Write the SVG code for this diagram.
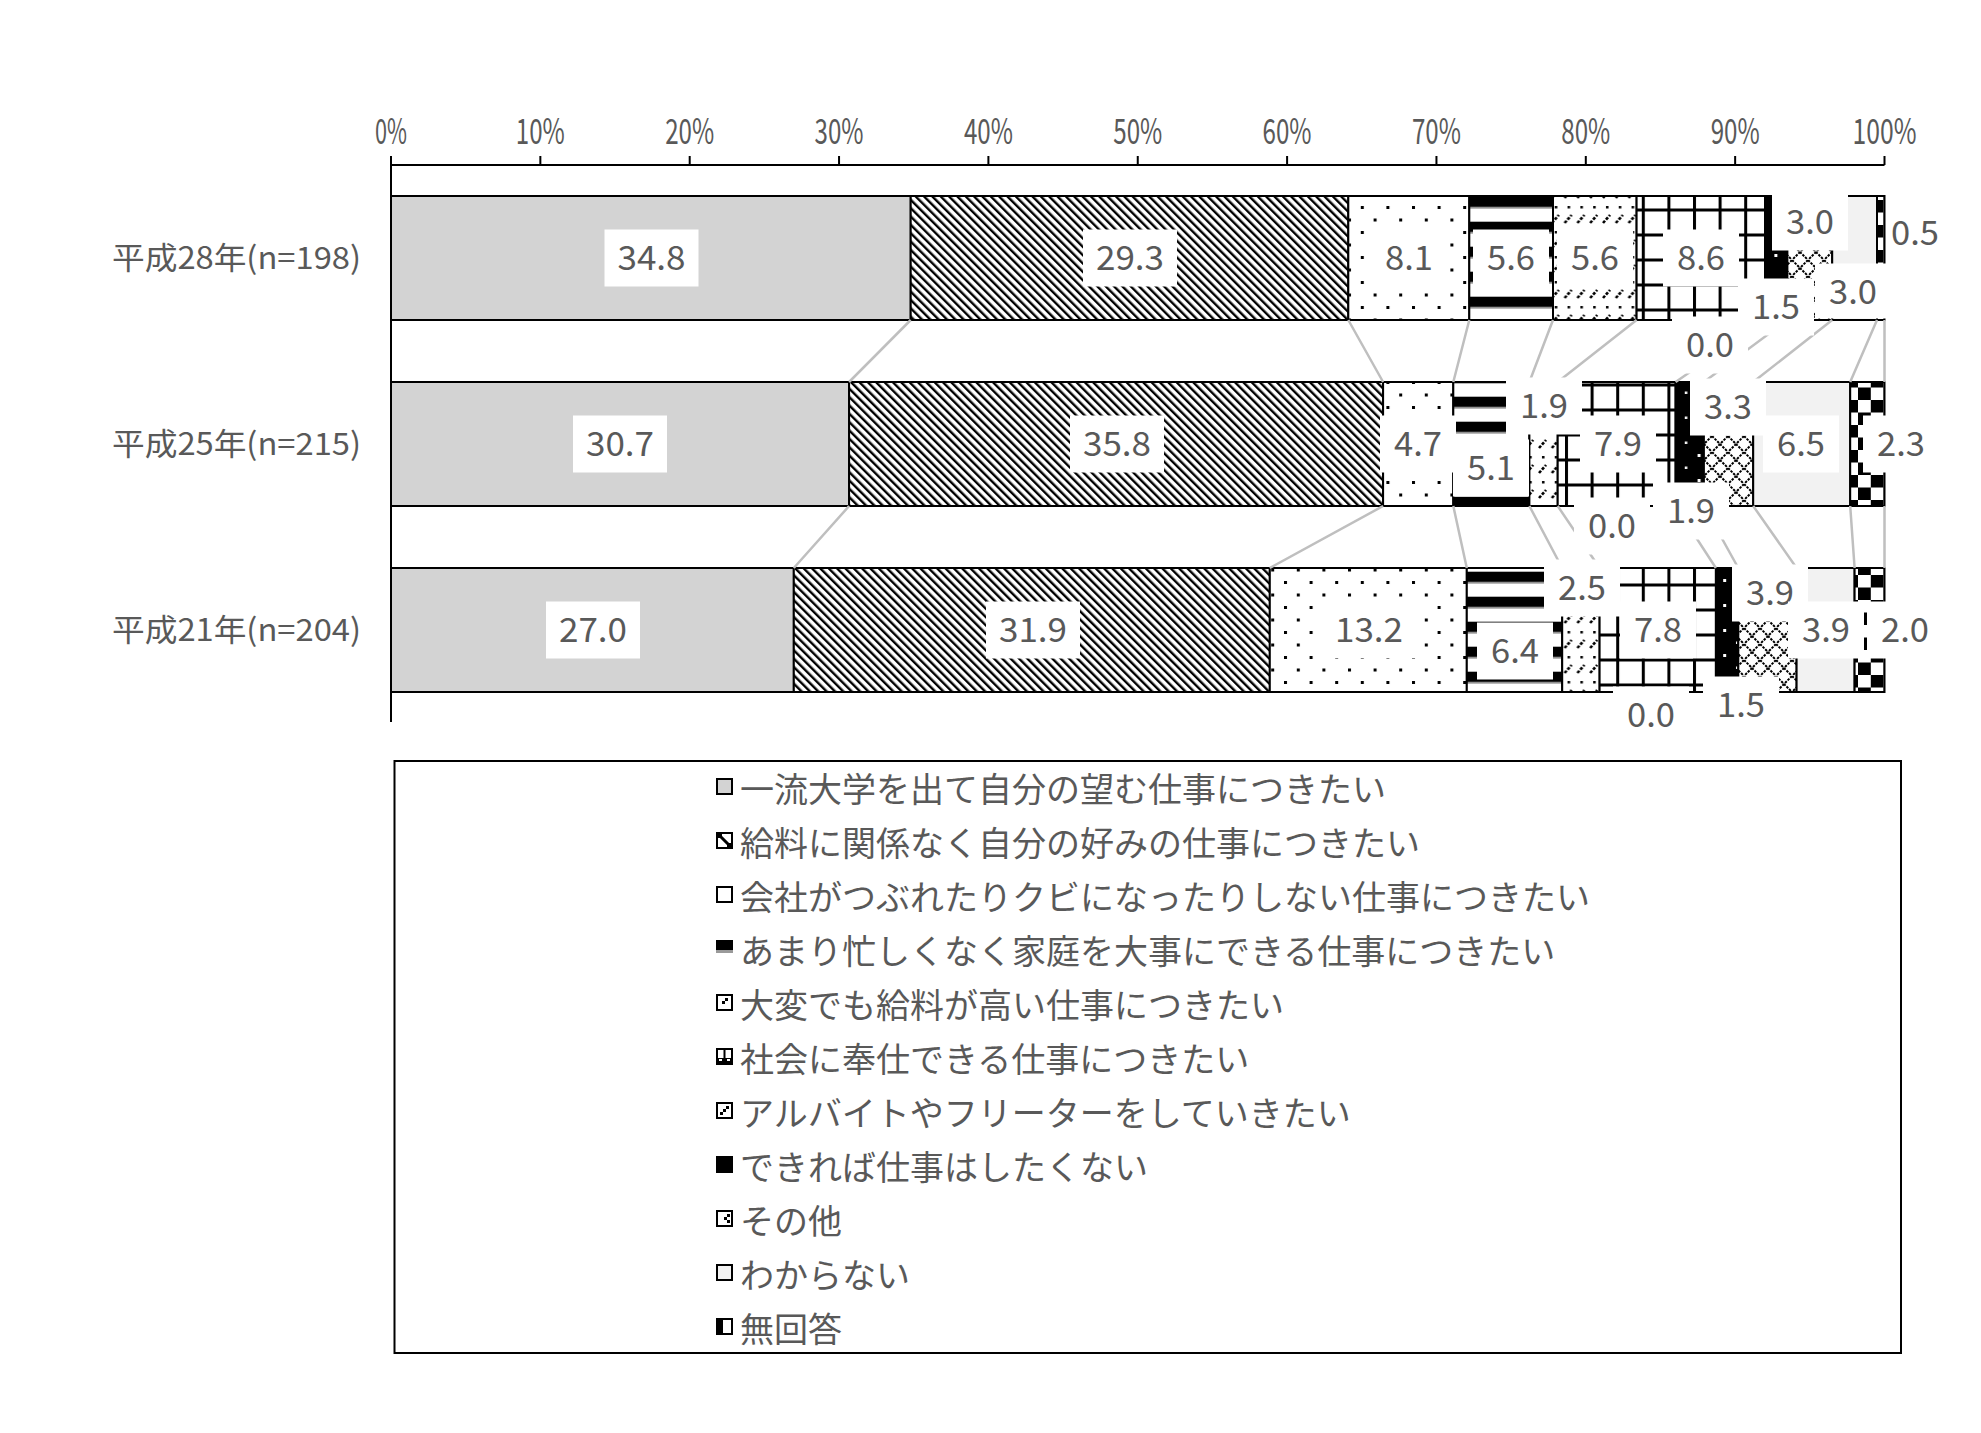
<svg xmlns="http://www.w3.org/2000/svg" width="1981" height="1433" viewBox="0 0 1981 1433">
<style>
.t{font-family:'Noto Sans CJK JP','Noto Sans',sans-serif;fill:#595959}
.num{font-size:34px;text-anchor:middle;dominant-baseline:central}
.tick{font-size:35px;text-anchor:middle;dominant-baseline:central}
.cat{font-size:31px;text-anchor:end;dominant-baseline:central}
.leg{font-size:34px;dominant-baseline:central}
.seg{stroke:#000;stroke-width:2}
.lb{fill:#fff}
.sl{stroke:#bfbfbf;stroke-width:2.5;fill:none}
.ax{stroke:#000;stroke-width:2;fill:none}
.mk{stroke:#000;stroke-width:2}
</style>
<defs>
<pattern id="p2" patternUnits="userSpaceOnUse" width="5.9" height="5.9" patternTransform="rotate(-45)">
<rect width="5.9" height="5.9" fill="#fff"/><rect width="2.4" height="5.9" fill="#000"/>
</pattern>
<pattern id="p3" patternUnits="userSpaceOnUse" x="4" y="6" width="25.6" height="25">
<rect width="25.6" height="25" fill="#fff"/><rect x="0" y="0" width="3" height="3" fill="#000"/><rect x="12.8" y="12.5" width="3" height="3" fill="#000"/>
</pattern>
<pattern id="p4" patternUnits="userSpaceOnUse" x="0" y="21.7" width="25.6" height="25">
<rect width="25.6" height="25" fill="#fff"/><rect width="25.6" height="10.5" fill="#000"/><rect y="10.5" width="25.6" height="1.5" fill="#9a9a9a"/>
</pattern>
<pattern id="p5" patternUnits="userSpaceOnUse" x="2" y="12" width="25.6" height="25">
<rect width="25.6" height="25" fill="#fff"/>
<path d="M1 11 L8 3 M13.8 11 L20.8 3" stroke="#000" stroke-width="2.6" stroke-dasharray="3 1.5"/>
<rect x="4" y="19" width="2.5" height="2.5" fill="#000"/><rect x="16.8" y="19" width="2.5" height="2.5" fill="#000"/>
</pattern>
<pattern id="p6" patternUnits="userSpaceOnUse" x="3.4" y="8.5" width="25.6" height="25">
<rect width="25.6" height="25" fill="#fff"/><rect width="25.6" height="3" fill="#000"/><rect width="3" height="25" fill="#000"/>
</pattern>
<pattern id="p8" patternUnits="userSpaceOnUse" x="6" y="2" width="25.6" height="25">
<rect width="25.6" height="25" fill="#000"/><rect x="2" y="2" width="3" height="3" fill="#fff"/><rect x="14.8" y="14.5" width="2.5" height="2.5" fill="#fff"/>
</pattern>
<pattern id="p9" patternUnits="userSpaceOnUse" width="16" height="16" y="4">
<rect width="16" height="16" fill="#fff"/>
<path d="M0 0 L16 16 M16 0 L0 16" stroke="#000" stroke-width="2" stroke-dasharray="2.5 1.2"/>
</pattern>
<pattern id="p11" patternUnits="userSpaceOnUse" x="2" y="0" width="25.6" height="25">
<rect width="25.6" height="25" fill="#fff"/><rect width="12.8" height="12.5" fill="#000"/><rect x="12.8" y="12.5" width="12.8" height="12.5" fill="#000"/>
</pattern>
</defs>
<rect width="1981" height="1433" fill="#fff"/>

<g id="axis">
<path class="ax" d="M391 165 H1884.5 M391 156 V722 M540.35 156 V165 M689.7 156 V165 M839.05 156 V165 M988.4 156 V165 M1137.75 156 V165 M1287.1 156 V165 M1436.45 156 V165 M1585.8 156 V165 M1735.15 156 V165 M1884.5 156 V165"/>
<text class="t tick" x="391" y="128" textLength="32" lengthAdjust="spacingAndGlyphs">0%</text>
<text class="t tick" x="540.35" y="128" textLength="49" lengthAdjust="spacingAndGlyphs">10%</text>
<text class="t tick" x="689.7" y="128" textLength="49" lengthAdjust="spacingAndGlyphs">20%</text>
<text class="t tick" x="839.05" y="128" textLength="49" lengthAdjust="spacingAndGlyphs">30%</text>
<text class="t tick" x="988.4" y="128" textLength="49" lengthAdjust="spacingAndGlyphs">40%</text>
<text class="t tick" x="1137.75" y="128" textLength="49" lengthAdjust="spacingAndGlyphs">50%</text>
<text class="t tick" x="1287.1" y="128" textLength="49" lengthAdjust="spacingAndGlyphs">60%</text>
<text class="t tick" x="1436.45" y="128" textLength="49" lengthAdjust="spacingAndGlyphs">70%</text>
<text class="t tick" x="1585.8" y="128" textLength="49" lengthAdjust="spacingAndGlyphs">80%</text>
<text class="t tick" x="1735.15" y="128" textLength="49" lengthAdjust="spacingAndGlyphs">90%</text>
<text class="t tick" x="1884.5" y="128" textLength="64" lengthAdjust="spacingAndGlyphs">100%</text>
<text class="t cat" x="361" y="255" textLength="249" lengthAdjust="spacingAndGlyphs">平成28年(n=198)</text>
<text class="t cat" x="361" y="441" textLength="249" lengthAdjust="spacingAndGlyphs">平成25年(n=215)</text>
<text class="t cat" x="361" y="627" textLength="249" lengthAdjust="spacingAndGlyphs">平成21年(n=204)</text>
</g>

<g id="bar-h28">
<rect class="seg" x="391" y="196" width="519.7" height="124" fill="#d3d3d3"/>
<rect class="seg" x="910.7" y="196" width="437.6" height="124" fill="url(#p2)"/>
<rect class="seg" x="1348.3" y="196" width="121" height="124" fill="url(#p3)"/>
<rect class="seg" x="1469.3" y="196" width="83.7" height="124" fill="url(#p4)"/>
<rect class="seg" x="1553" y="196" width="83.6" height="124" fill="url(#p5)"/>
<rect class="seg" x="1636.6" y="196" width="128.4" height="124" fill="url(#p6)"/>
<rect class="seg" x="1765" y="196" width="22.4" height="124" fill="url(#p8)"/>
<rect class="seg" x="1787.4" y="196" width="44.8" height="124" fill="url(#p9)"/>
<rect class="seg" x="1832.2" y="196" width="44.8" height="124" fill="#f2f2f2"/>
<rect class="seg" x="1877" y="196" width="7.5" height="124" fill="url(#p11)"/>
</g>
<g id="bar-h25">
<rect class="seg" x="391" y="382" width="458.1" height="124" fill="#d3d3d3"/>
<rect class="seg" x="849.1" y="382" width="534" height="124" fill="url(#p2)"/>
<rect class="seg" x="1383.1" y="382" width="70.2" height="124" fill="url(#p3)"/>
<rect class="seg" x="1453.3" y="382" width="76.1" height="124" fill="url(#p4)"/>
<rect class="seg" x="1529.4" y="382" width="28.3" height="124" fill="url(#p5)"/>
<rect class="seg" x="1557.7" y="382" width="117.9" height="124" fill="url(#p6)"/>
<rect class="seg" x="1675.6" y="382" width="28.3" height="124" fill="url(#p8)"/>
<rect class="seg" x="1703.9" y="382" width="49.3" height="124" fill="url(#p9)"/>
<rect class="seg" x="1753.2" y="382" width="97" height="124" fill="#f2f2f2"/>
<rect class="seg" x="1850.2" y="382" width="34.3" height="124" fill="url(#p11)"/>
</g>
<g id="bar-h21">
<rect class="seg" x="391" y="568" width="402.8" height="124" fill="#d3d3d3"/>
<rect class="seg" x="793.8" y="568" width="476" height="124" fill="url(#p2)"/>
<rect class="seg" x="1269.8" y="568" width="197" height="124" fill="url(#p3)"/>
<rect class="seg" x="1466.8" y="568" width="95.4" height="124" fill="url(#p4)"/>
<rect class="seg" x="1562.2" y="568" width="37.4" height="124" fill="url(#p5)"/>
<rect class="seg" x="1599.6" y="568" width="116.3" height="124" fill="url(#p6)"/>
<rect class="seg" x="1715.9" y="568" width="22.4" height="124" fill="url(#p8)"/>
<rect class="seg" x="1738.3" y="568" width="58.3" height="124" fill="url(#p9)"/>
<rect class="seg" x="1796.6" y="568" width="58" height="124" fill="#f2f2f2"/>
<rect class="seg" x="1854.6" y="568" width="29.9" height="124" fill="url(#p11)"/>
</g>

<g id="connectors">
<path class="sl" d="M910.7 320 L849.1 382 M1348.3 320 L1383.1 382 M1469.3 320 L1453.3 382 M1553 320 L1529.4 382 M1636.6 320 L1557.7 382 M1765 320 L1675.6 382 M1787.4 320 L1703.9 382 M1832.2 320 L1753.2 382 M1877 320 L1850.2 382 M1884.5 320 L1884.5 382"/>
<path class="sl" d="M849.1 506 L793.8 568 M1383.1 506 L1269.8 568 M1453.3 506 L1466.8 568 M1529.4 506 L1562.2 568 M1557.7 506 L1599.6 568 M1675.6 506 L1715.9 568 M1703.9 506 L1738.3 568 M1753.2 506 L1796.6 568 M1850.2 506 L1854.6 568 M1884.5 506 L1884.5 568"/>
</g>

<g id="labels-h28">
<rect class="lb" x="604.5" y="229.5" width="94" height="57"/><text class="t num" x="651.5" y="255" textLength="68" lengthAdjust="spacingAndGlyphs">34.8</text>
<rect class="lb" x="1083" y="229.5" width="94" height="57"/><text class="t num" x="1130" y="255" textLength="68" lengthAdjust="spacingAndGlyphs">29.3</text>
<rect class="lb" x="1371" y="229.5" width="76" height="57"/><text class="t num" x="1409" y="255" textLength="48" lengthAdjust="spacingAndGlyphs">8.1</text>
<rect class="lb" x="1473" y="229.5" width="76" height="57"/><text class="t num" x="1511" y="255" textLength="48" lengthAdjust="spacingAndGlyphs">5.6</text>
<rect class="lb" x="1557" y="229.5" width="76" height="57"/><text class="t num" x="1595" y="255" textLength="48" lengthAdjust="spacingAndGlyphs">5.6</text>
<rect class="lb" x="1663" y="229.5" width="76" height="57"/><text class="t num" x="1701" y="255" textLength="48" lengthAdjust="spacingAndGlyphs">8.6</text>
<rect class="lb" x="1672" y="316.5" width="76" height="57"/><text class="t num" x="1710" y="342" textLength="48" lengthAdjust="spacingAndGlyphs">0.0</text>
<rect class="lb" x="1738" y="278.5" width="76" height="57"/><text class="t num" x="1776" y="304" textLength="48" lengthAdjust="spacingAndGlyphs">1.5</text>
<rect class="lb" x="1772" y="193.5" width="76" height="57"/><text class="t num" x="1810" y="219" textLength="48" lengthAdjust="spacingAndGlyphs">3.0</text>
<rect class="lb" x="1815" y="263.5" width="76" height="55"/><text class="t num" x="1853" y="289" textLength="48" lengthAdjust="spacingAndGlyphs">3.0</text>
<rect class="lb" x="1886" y="204.5" width="58" height="57"/><text class="t num" x="1915" y="230" textLength="48" lengthAdjust="spacingAndGlyphs">0.5</text>
</g>
<g id="labels-h25">
<rect class="lb" x="573" y="415.5" width="94" height="57"/><text class="t num" x="620" y="441" textLength="68" lengthAdjust="spacingAndGlyphs">30.7</text>
<rect class="lb" x="1070" y="415.5" width="94" height="57"/><text class="t num" x="1117" y="441" textLength="68" lengthAdjust="spacingAndGlyphs">35.8</text>
<rect class="lb" x="1380" y="415.5" width="76" height="57"/><text class="t num" x="1418" y="441" textLength="48" lengthAdjust="spacingAndGlyphs">4.7</text>
<rect class="lb" x="1453" y="439.5" width="76" height="57"/><text class="t num" x="1491" y="465" textLength="48" lengthAdjust="spacingAndGlyphs">5.1</text>
<rect class="lb" x="1506" y="377.5" width="76" height="57"/><text class="t num" x="1544" y="403" textLength="48" lengthAdjust="spacingAndGlyphs">1.9</text>
<rect class="lb" x="1580" y="415.5" width="76" height="57"/><text class="t num" x="1618" y="441" textLength="48" lengthAdjust="spacingAndGlyphs">7.9</text>
<rect class="lb" x="1574" y="497.5" width="76" height="57"/><text class="t num" x="1612" y="523" textLength="48" lengthAdjust="spacingAndGlyphs">0.0</text>
<rect class="lb" x="1653" y="482.5" width="76" height="57"/><text class="t num" x="1691" y="508" textLength="48" lengthAdjust="spacingAndGlyphs">1.9</text>
<rect class="lb" x="1690" y="378.5" width="76" height="57"/><text class="t num" x="1728" y="404" textLength="48" lengthAdjust="spacingAndGlyphs">3.3</text>
<rect class="lb" x="1763" y="415.5" width="76" height="57"/><text class="t num" x="1801" y="441" textLength="48" lengthAdjust="spacingAndGlyphs">6.5</text>
<rect class="lb" x="1863" y="415.5" width="76" height="57"/><text class="t num" x="1901" y="441" textLength="48" lengthAdjust="spacingAndGlyphs">2.3</text>
</g>
<g id="labels-h21">
<rect class="lb" x="546" y="601.5" width="94" height="57"/><text class="t num" x="593" y="627" textLength="68" lengthAdjust="spacingAndGlyphs">27.0</text>
<rect class="lb" x="986" y="601.5" width="94" height="57"/><text class="t num" x="1033" y="627" textLength="68" lengthAdjust="spacingAndGlyphs">31.9</text>
<rect class="lb" x="1322" y="601.5" width="94" height="57"/><text class="t num" x="1369" y="627" textLength="68" lengthAdjust="spacingAndGlyphs">13.2</text>
<rect class="lb" x="1477" y="622.5" width="76" height="57"/><text class="t num" x="1515" y="648" textLength="48" lengthAdjust="spacingAndGlyphs">6.4</text>
<rect class="lb" x="1544" y="559.5" width="76" height="57"/><text class="t num" x="1582" y="585" textLength="48" lengthAdjust="spacingAndGlyphs">2.5</text>
<rect class="lb" x="1620" y="601.5" width="76" height="57"/><text class="t num" x="1658" y="627" textLength="48" lengthAdjust="spacingAndGlyphs">7.8</text>
<rect class="lb" x="1613" y="686.5" width="76" height="57"/><text class="t num" x="1651" y="712" textLength="48" lengthAdjust="spacingAndGlyphs">0.0</text>
<rect class="lb" x="1703" y="676.5" width="76" height="57"/><text class="t num" x="1741" y="702" textLength="48" lengthAdjust="spacingAndGlyphs">1.5</text>
<rect class="lb" x="1732" y="564.5" width="76" height="57"/><text class="t num" x="1770" y="590" textLength="48" lengthAdjust="spacingAndGlyphs">3.9</text>
<rect class="lb" x="1788" y="601.5" width="76" height="57"/><text class="t num" x="1826" y="627" textLength="48" lengthAdjust="spacingAndGlyphs">3.9</text>
<rect class="lb" x="1867" y="601.5" width="76" height="57"/><text class="t num" x="1905" y="627" textLength="48" lengthAdjust="spacingAndGlyphs">2.0</text>
</g>

<g id="legend">
<rect x="394.5" y="761" width="1506.5" height="592" fill="#fff" stroke="#000" stroke-width="2"/>
<g id="mk1"><rect class="mk" x="717" y="779" width="15" height="15" fill="#d3d3d3"/></g>
<text class="t leg" x="740" y="787">一流大学を出て自分の望む仕事につきたい</text>
<g id="mk2"><rect class="mk" x="717" y="833" width="15" height="15" fill="#fff"/><path d="M719 835 L730 846" stroke="#000" stroke-width="3"/><rect x="718" y="834" width="4" height="4" fill="#000"/><rect x="727" y="843" width="4" height="4" fill="#000"/></g>
<text class="t leg" x="740" y="841">給料に関係なく自分の好みの仕事につきたい</text>
<g id="mk3"><rect class="mk" x="717" y="887" width="15" height="15" fill="#fff"/></g>
<text class="t leg" x="740" y="895">会社がつぶれたりクビになったりしない仕事につきたい</text>
<g id="mk4"><rect x="716" y="940" width="17" height="17" fill="#fff"/><rect x="716" y="940" width="17" height="10" fill="#000"/><rect x="716" y="950" width="17" height="3" fill="#9a9a9a"/></g>
<text class="t leg" x="740" y="949">あまり忙しくなく家庭を大事にできる仕事につきたい</text>
<g id="mk5"><rect class="mk" x="717" y="995" width="15" height="15" fill="#fff"/><rect x="725" y="998" width="3" height="3" fill="#000"/><rect x="722" y="1001" width="3" height="3" fill="#000"/></g>
<text class="t leg" x="740" y="1003">大変でも給料が高い仕事につきたい</text>
<g id="mk6"><rect class="mk" x="717" y="1049" width="15" height="15" fill="#fff"/><rect x="723.5" y="1049" width="2" height="15" fill="#000"/><rect x="717" y="1058" width="15" height="6" fill="#000"/><rect x="719" y="1059" width="3" height="2" fill="#fff"/><rect x="727" y="1059" width="3" height="2" fill="#fff"/></g>
<text class="t leg" x="740" y="1057">社会に奉仕できる仕事につきたい</text>
<g id="mk7"><rect class="mk" x="717" y="1103" width="15" height="15" fill="#fff"/><rect x="726" y="1106" width="3" height="3" fill="#000"/><rect x="723" y="1109" width="3" height="3" fill="#000"/><rect x="720" y="1112" width="3" height="3" fill="#000"/></g>
<text class="t leg" x="740" y="1111">アルバイトやフリーターをしていきたい</text>
<g id="mk8"><rect class="mk" x="717" y="1157" width="15" height="15" fill="#000"/></g>
<text class="t leg" x="740" y="1165">できれば仕事はしたくない</text>
<g id="mk9"><rect class="mk" x="717" y="1211" width="15" height="15" fill="#fff"/><rect x="727" y="1214" width="3" height="3" fill="#000"/><rect x="724" y="1217" width="3" height="3" fill="#000"/><rect x="727" y="1220" width="3" height="3" fill="#000"/></g>
<text class="t leg" x="740" y="1219">その他</text>
<g id="mk10"><rect class="mk" x="717" y="1265" width="15" height="15" fill="#f2f2f2"/></g>
<text class="t leg" x="740" y="1273">わからない</text>
<g id="mk11"><rect class="mk" x="717" y="1319" width="15" height="15" fill="#fff"/><rect x="717" y="1319" width="6" height="15" fill="#000"/></g>
<text class="t leg" x="740" y="1327">無回答</text>
</g>
</svg>
